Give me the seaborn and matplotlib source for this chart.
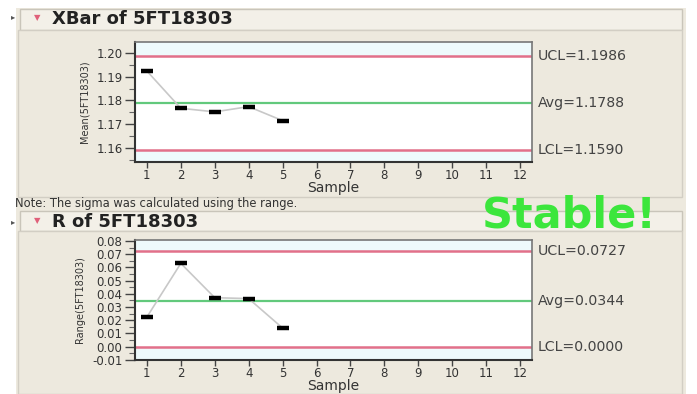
import matplotlib
matplotlib.use("Agg")
import matplotlib.pyplot as plt
from matplotlib.patches import Rectangle
from matplotlib.ticker import MultipleLocator
import seaborn as sns
import pandas as pd

# data
samples = [1, 2, 3, 4, 5]
xbar_values = [1.1924, 1.1767, 1.1752, 1.1774, 1.1715]
range_values = [0.0224, 0.0631, 0.0371, 0.0364, 0.0141]
xbar_limits = {"UCL": 1.1986, "Avg": 1.1788, "LCL": 1.1590}
range_limits = {"UCL": 0.0727, "Avg": 0.0344, "LCL": 0.0000}
x_ticks = list(range(1, 13))

sns.set_theme(style="white")
plt.rcParams['font.family'] = ['DejaVu Sans']

W, H = 697, 394
fig = plt.figure(figsize=(W / 100, H / 100), dpi=100, facecolor="white")

beige = "#EDE9DE"
def px_rect(x0, y0, x1, y1, fc, ec="none", lw=0.0, z=0):
  fig.patches.append(Rectangle((x0 / W, 1 - y1 / H), (x1 - x0) / W, (y1 - y0) / H,
                               transform=fig.transFigure, facecolor=fc, edgecolor=ec,
                               linewidth=lw, zorder=z))

# window background, headers and panel frames
px_rect(16, 8, 686, 394, beige)
px_rect(20, 9, 682, 30, "#F3F0E8", "#C9C5BA", 1.0, 1)
px_rect(18, 30, 682, 197, beige, "#D2CEC4", 1.0, 1)
px_rect(20, 211, 682, 231, "#F3F0E8", "#C9C5BA", 1.0, 1)
px_rect(18, 231, 682, 394, beige, "#D2CEC4", 1.0, 1)

fig.text(13 / W, 1 - 17 / H, "▸", fontsize=6, color="#555555", ha="center", va="center")
fig.text(13 / W, 1 - 222 / H, "▸", fontsize=6, color="#555555", ha="center", va="center")
fig.text(37 / W, 1 - 18 / H, "▼", fontsize=6, color="#E0607A", ha="center", va="center")
fig.text(37 / W, 1 - 221 / H, "▼", fontsize=6, color="#E0607A", ha="center", va="center")
fig.text(52 / W, 1 - 19 / H, "XBar of 5FT18303", fontsize=13, fontweight="bold",
         color="#222222", va="center")
fig.text(52 / W, 1 - 222 / H, "R of 5FT18303", fontsize=13, fontweight="bold",
         color="#222222", va="center")
fig.text(15 / W, 1 - 203 / H, "Note: The sigma was calculated using the range.",
         fontsize=8.3, color="#333333", va="center")

def control_chart(rect, values, limits, ylim, ystep, ylabel, fmt):
  ax = fig.add_axes(rect)
  ax.set_facecolor("white")
  ax.set_zorder(3)
  df = pd.DataFrame({"Sample": samples, "Value": values})
  ax.axhspan(limits["UCL"], ylim[1], color="#EEFAFC", zorder=0)
  ax.axhspan(ylim[0], limits["LCL"], color="#EEFAFC", zorder=0)
  ax.axhline(limits["UCL"], color="#E2708A", lw=1.8, zorder=1)
  ax.axhline(limits["LCL"], color="#E2708A", lw=1.8, zorder=1)
  ax.axhline(limits["Avg"], color="#62C97C", lw=1.6, zorder=1)
  sns.lineplot(data=df, x="Sample", y="Value", ax=ax, color="#C8C8C8", lw=1.2,
               marker="_", markersize=9, markeredgewidth=3.2,
               markeredgecolor="black", markerfacecolor="black", zorder=2)
  ax.set_xlim(0.65, 12.35)
  ax.set_ylim(*ylim)
  ax.set_xticks(x_ticks)
  ax.yaxis.set_major_locator(MultipleLocator(ystep))
  ax.yaxis.set_minor_locator(MultipleLocator(ystep / 2))
  ax.yaxis.set_major_formatter(plt.FuncFormatter(lambda v, p: fmt.format(v)))
  ax.tick_params(axis="x", which="major", direction="out", length=4, width=1,
                 color="#444444", labelsize=8.5, labelcolor="#333333", pad=1,
                 bottom=True)
  ax.tick_params(axis="y", which="major", direction="out", length=7, width=1,
                 color="#444444", labelsize=8.5, labelcolor="#333333", pad=2,
                 left=True)
  ax.tick_params(axis="y", which="minor", direction="out", length=4, width=0.8,
                 color="#666666", left=True)
  ax.set_xlabel("Sample", fontsize=10, color="#333333", labelpad=-1)
  ax.set_ylabel(ylabel, fontsize=7, color="#333333", labelpad=5)
  for side in ["left", "bottom"]:
    ax.spines[side].set_color("#333333")
    ax.spines[side].set_linewidth(1.5)
  for side in ["top", "right"]:
    ax.spines[side].set_color("#777777")
    ax.spines[side].set_linewidth(1.2)
  for name in ["UCL", "Avg", "LCL"]:
    ax.annotate("{}={:.4f}".format(name, limits[name]), xy=(1.0, limits[name]),
                xycoords=("axes fraction", "data"), xytext=(4, 0),
                textcoords="offset points", fontsize=10.2, color="#444444",
                va="center", ha="left", annotation_clip=False)
  return ax

control_chart([135 / W, 1 - 162 / H, 397 / W, 120 / H], xbar_values, xbar_limits,
              (1.1541, 1.2046), 0.01, "Mean(5FT18303)", "{:.2f}")
control_chart([135 / W, 1 - 360 / H, 397 / W, 120 / H], range_values, range_limits,
              (-0.0101, 0.0808), 0.01, "Range(5FT18303)", "{:.2f}")

fig.text(569 / W, 1 - 216 / H, "Stable!", fontsize=31, fontweight="bold",
         color="#3CE63C", ha="center", va="center", zorder=10)

fig.savefig("out.png", dpi=100, facecolor=fig.get_facecolor())
